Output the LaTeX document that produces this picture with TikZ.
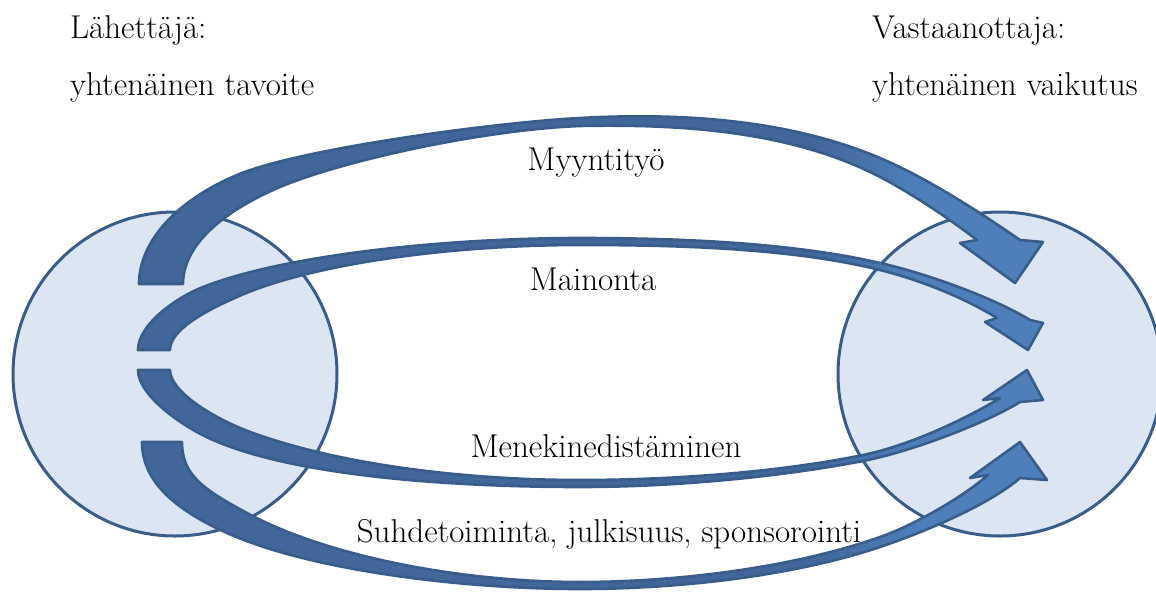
\documentclass[tikz,border=0pt]{standalone}
\usepackage{xcolor}
\definecolor{bdark}{HTML}{40669A}
\definecolor{blight}{HTML}{4E7FBB}
\definecolor{bline}{HTML}{385D8A}
\definecolor{cfill}{HTML}{DCE6F2}
\pgfdeclarehorizontalshading{bandshade}{100bp}{color(0bp)=(bdark); color(62bp)=(bdark); color(68bp)=(blight); color(100bp)=(blight)}
\begin{document}
\begin{tikzpicture}[x=1pt,y=-1pt,
  disc/.style={circle, draw=bline, line width=3pt, fill=cfill, minimum size=324pt, inner sep=0pt},
  band/.style={draw=bline, line width=2.6pt, line join=round, shading=bandshade},
  lbl/.style={anchor=base, inner sep=0pt, font=\fontsize{33}{38}\selectfont},
  hdr/.style={anchor=base west, inner sep=0pt, font=\fontsize{33}{38}\selectfont}]
\useasboundingbox (0,0) rectangle (1156,592);
\begin{scope}
\clip (0,0) rectangle (1156,592);
\node[disc] (sender) at (175,374) {};
\node[disc] (receiver) at (1000,374) {};
% Myyntityo
\path[band] (139,284) .. controls (139,244) and (173,202) .. (237,175)
  .. controls (301,148) and (500,122) .. (580,118)
  .. controls (680,112.5) and (788,119) .. (880,158)
  .. controls (926,177.5) and (979,211.5) .. (1020,240)
  -- (1043,242) -- (1015,283) -- (960,243) -- (977,240)
  .. controls (949,218.6) and (911,193) .. (880,177)
  .. controls (791,130.6) and (680,124) .. (580,126)
  .. controls (480,130) and (340,161.6) .. (280,187)
  .. controls (225,210.4) and (183,244) .. (183,284) -- cycle;
% Mainonta
\path[band] (138,350) .. controls (138,325) and (175,298) .. (203,287)
  .. controls (287,254) and (450,238) .. (580,238)
  .. controls (680,238) and (792,242.6) .. (880,263)
  .. controls (929,274) and (996,299) .. (1030,320)
  -- (1043,323) -- (1028,350) -- (985,322) -- (997,318)
  .. controls (967,299.5) and (924,281) .. (880,270)
  .. controls (793,248.4) and (680,245) .. (580,245)
  .. controls (450,245) and (310,264) .. (237,297)
  .. controls (205,311) and (170,330) .. (170,350) -- cycle;
% Menekinedistaminen
\path[band] (138,370) .. controls (138,395) and (181,426) .. (213,440)
  .. controls (295,476) and (450,487) .. (580,487)
  .. controls (680,487) and (785,476) .. (863,461)
  .. controls (912,451.5) and (986,423) .. (1020,402)
  -- (1043,400) -- (1027,370) -- (983,400) -- (1000,398)
  .. controls (970,416.5) and (912,445) .. (863,455)
  .. controls (785,471) and (680,480) .. (580,480)
  .. controls (460,480) and (338,463.6) .. (253,433)
  .. controls (215,419.4) and (170,392) .. (170,370) -- cycle;
% Suhdetoiminta
\path[band] (142,442) .. controls (142,480) and (172.4,508.4) .. (227,533)
  .. controls (309,570) and (460,589) .. (580,589)
  .. controls (680,589) and (794.5,575.8) .. (880,547)
  .. controls (927.5,531) and (990,504) .. (1020,478)
  -- (1047,480) -- (1020,442) -- (970,478) -- (988,475)
  .. controls (965.5,494.8) and (917.6,523.8) .. (880,537)
  .. controls (795,567) and (680,582) .. (580,582)
  .. controls (460,582) and (326,556) .. (247,513)
  .. controls (203,489.25) and (182,475) .. (182,442) -- cycle;
\end{scope}
\node[hdr] (s1) at (70,38) {Lähettäjä:};
\node[hdr] (s2) at (70,95) {yhtenäinen tavoite};
\node[hdr] (r1) at (872,38) {Vastaanottaja:};
\node[hdr] (r2) at (872,95) {yhtenäinen vaikutus};
\node[lbl] (m1) at (596,170) {Myyntityö};
\node[lbl] (m2) at (593,290) {Mainonta};
\node[lbl] (m3) at (606,457) {Menekinedistäminen};
\node[lbl] (m4) at (609,542) {Suhdetoiminta, julkisuus, sponsorointi};
\end{tikzpicture}
\end{document}
